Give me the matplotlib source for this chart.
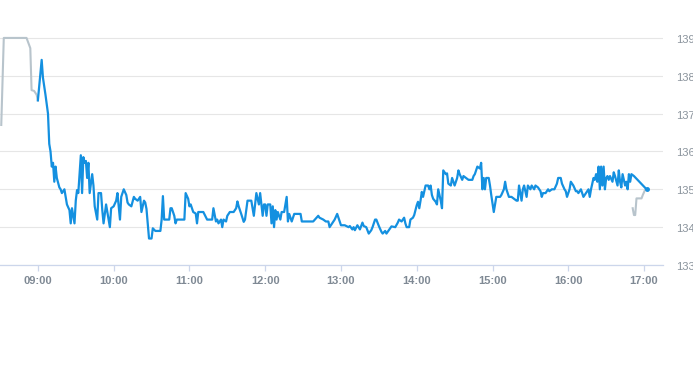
import matplotlib
matplotlib.use("Agg")
import matplotlib.pyplot as plt
import matplotlib.transforms as mtransforms

plt.rcParams["font.family"] = ["Liberation Sans", "DejaVu Sans"]

# ---- data (time = minutes after 09:00, value = price) ----
pre_times = [-29, -27, -9, -6, -5, -3, -1, 0]
pre_prices = [136.7, 139.0, 139.0, 138.73, 137.62, 137.6, 137.5, 137.35]

main_times = [0, 3, 4, 6, 8, 9, 10, 11, 12, 13, 14, 15, 17, 18, 19, 21, 22, 23, 25, 26,
              27, 29, 30, 31, 32, 34, 35, 36, 37, 38, 39, 40, 41, 43, 44, 45, 47, 48, 50, 51,
              52, 54, 56, 57, 58, 60, 62, 63, 65, 66, 68, 70, 71, 72, 74, 76, 77, 79, 81, 82,
              84, 85, 86, 88, 90, 91, 93, 97, 98, 99, 100, 104, 105, 106, 108, 109, 110, 116, 117, 119,
              120, 121, 123, 125, 126, 127, 131, 134, 138, 139, 141, 142, 143, 145, 146, 147, 149, 150, 152, 155,
              157, 158, 159, 161, 163, 164, 166, 169, 171, 173, 175, 176, 178, 179, 180, 181, 182, 184, 185, 186,
              187, 188, 189, 190, 192, 193, 195, 197, 198, 199, 201, 203, 208, 209, 218, 222, 223, 226, 228, 230,
              231, 233, 235, 237, 240, 243, 246, 247, 249, 250, 251, 253, 255, 257, 258, 260, 262, 264, 265, 267,
              268, 270, 272, 273, 275, 276, 279, 280, 283, 285, 286, 288, 290, 291, 292, 294, 295, 297, 298, 300,
              301, 302, 303, 304, 305, 307, 309, 310, 311, 312, 313, 315, 316, 317, 319, 320, 321, 323, 324, 325,
              327, 328, 329, 330, 332, 333, 334, 336, 337, 339, 341, 344, 345, 346, 348, 350, 351, 352, 353, 354,
              355, 357, 358, 359, 361, 362, 363, 366, 367, 369, 370, 371, 373, 375, 377, 379, 380, 381, 383, 384,
              385, 387, 388, 390, 391, 393, 394, 396, 398, 399, 400, 402, 404, 405, 407, 409, 411, 412, 414, 415,
              417, 418, 419, 421, 422, 423, 424, 426, 427, 428, 430, 431, 432, 434, 436, 437, 438, 440, 441, 442,
              443, 444, 445, 446, 447, 448, 449, 450, 451, 452, 453, 455, 456, 457, 459, 460, 461, 462, 463, 465,
              466, 467, 468, 469, 470, 472, 482]
main_prices = [137.35, 138.42, 137.95, 137.5, 137.0, 136.2, 136.0, 135.6, 135.7, 135.2, 135.6, 135.3, 135.05, 135.0, 134.9, 135.0, 134.8, 134.6, 134.45, 134.1,
               134.5, 134.1, 134.7, 134.98, 134.9, 135.9, 134.9, 135.85, 135.7, 135.75, 135.3, 135.7, 134.9, 135.4, 135.1, 134.55, 134.2, 134.9, 134.9, 134.45,
               134.1, 134.6, 134.2, 134.0, 134.5, 134.55, 134.7, 134.9, 134.2, 134.8, 135.0, 134.85, 134.65, 134.6, 134.55, 134.8, 134.75, 134.7, 134.8, 134.4,
               134.7, 134.65, 134.48, 133.7, 133.7, 133.97, 133.9, 133.9, 134.2, 134.82, 134.2, 134.2, 134.5, 134.5, 134.3, 134.1, 134.2, 134.2, 134.9, 134.75,
               134.55, 134.6, 134.4, 134.36, 134.1, 134.4, 134.4, 134.2, 134.2, 134.5, 134.15, 134.2, 134.1, 134.2, 134.0, 134.2, 134.15, 134.3, 134.4, 134.4,
               134.5, 134.68, 134.55, 134.35, 134.14, 134.2, 134.7, 134.7, 134.3, 134.9, 134.6, 134.9, 134.3, 134.6, 134.6, 134.3, 134.6, 134.6, 134.1, 134.55,
               134.0, 134.45, 134.2, 134.4, 134.2, 134.4, 134.4, 134.8, 134.15, 134.35, 134.15, 134.35, 134.35, 134.15, 134.15, 134.3, 134.25, 134.2, 134.15, 134.15,
               134.0, 134.1, 134.2, 134.35, 134.05, 134.05, 134.0, 134.03, 133.94, 134.0, 133.92, 134.05, 133.94, 134.12, 134.03, 134.0, 133.83, 133.92, 134.0, 134.2,
               134.2, 134.03, 133.88, 133.83, 133.9, 133.83, 133.97, 134.02, 134.0, 134.12, 134.2, 134.15, 134.25, 134.1, 134.0, 134.0, 134.2, 134.25, 134.32, 134.58,
               134.67, 134.5, 134.7, 134.93, 134.8, 135.1, 135.1, 135.0, 135.1, 134.85, 134.75, 134.67, 134.6, 135.0, 134.7, 134.5, 135.5, 135.4, 135.42, 135.15,
               135.1, 135.3, 135.2, 135.1, 135.3, 135.5, 135.4, 135.25, 135.35, 135.3, 135.25, 135.25, 135.35, 135.4, 135.6, 135.55, 135.7, 135.0, 135.3, 135.0,
               135.3, 135.3, 135.1, 134.85, 134.4, 134.6, 134.8, 134.8, 134.85, 135.0, 135.2, 135.0, 134.8, 134.8, 134.75, 134.7, 134.7, 135.1, 134.7, 135.0,
               135.1, 134.8, 135.1, 135.0, 135.1, 135.0, 135.1, 135.05, 134.95, 134.8, 134.9, 134.9, 135.0, 134.95, 135.0, 135.0, 135.15, 135.3, 135.3, 135.15,
               135.0, 134.95, 134.8, 135.0, 135.2, 135.15, 135.1, 134.95, 134.95, 134.9, 135.0, 134.9, 134.8, 134.9, 135.0, 134.8, 135.0, 135.3, 135.25, 135.4,
               135.2, 135.6, 135.0, 135.6, 135.1, 135.6, 135.0, 135.3, 135.35, 135.25, 135.35, 135.2, 135.45, 135.35, 135.1, 135.5, 135.2, 135.05, 135.4, 135.1,
               135.2, 135.0, 135.4, 135.2, 135.4, 135.35, 135.0]

post_times = [471, 472, 473, 474, 478, 479, 481, 482]
post_prices = [134.5, 134.32, 134.32, 134.76, 134.76, 134.85, 135.0, 135.0]

tick_labels = ["09:00", "10:00", "11:00", "12:00", "13:00", "14:00", "15:00", "16:00", "17:00"]
y_ticks = [133, 134, 135, 136, 137, 138, 139]

# ---- figure ----
fig = plt.figure(figsize=(6.93, 3.65), dpi=100)
ax = fig.add_axes([0.0, 100 / 365, 663 / 693, (265 - 19) / 365])

blue = "#1490e0"
grey = "#b8c4cc"
ax.plot(pre_times, pre_prices, color=grey, lw=1.5, zorder=2, solid_joinstyle="round")
ax.plot(post_times, post_prices, color=grey, lw=1.5, zorder=2, solid_joinstyle="round")
ax.plot(main_times, main_prices, color=blue, lw=1.6, zorder=3, solid_joinstyle="round")
ax.plot(main_times[-1:], main_prices[-1:], "o", color=blue, ms=2.5, zorder=4)

ax.set_xlim(-30, 495)
ax.set_ylim(133, 139.5)

ax.set_xticks([60 * i for i in range(len(tick_labels))])
ax.set_xticklabels(tick_labels)
ax.set_yticks(y_ticks)
ax.set_yticklabels([str(v) for v in y_ticks])

ax.yaxis.tick_right()
ax.grid(axis="y", color="#e6e6e6", lw=0.8)
ax.set_axisbelow(True)
for s in ["top", "left", "right"]:
    ax.spines[s].set_visible(False)
ax.spines["bottom"].set_color("#ccd6eb")
ax.spines["bottom"].set_linewidth(0.9)

ax.tick_params(axis="x", colors="#ccd6eb", length=4, width=0.9, pad=4,
               labelsize=8, labelcolor="#7f8994")
for lab in ax.get_xticklabels():
    lab.set_fontweight("bold")
ax.tick_params(axis="y", length=0, pad=9.5, labelsize=8, labelcolor="#8a939c")
offset = mtransforms.ScaledTranslation(0, -2 / 100, fig.dpi_scale_trans)
for lab in ax.get_yticklabels():
    lab.set_verticalalignment("center")
    lab.set_transform(lab.get_transform() + offset)

fig.savefig("out.png", dpi=100)
